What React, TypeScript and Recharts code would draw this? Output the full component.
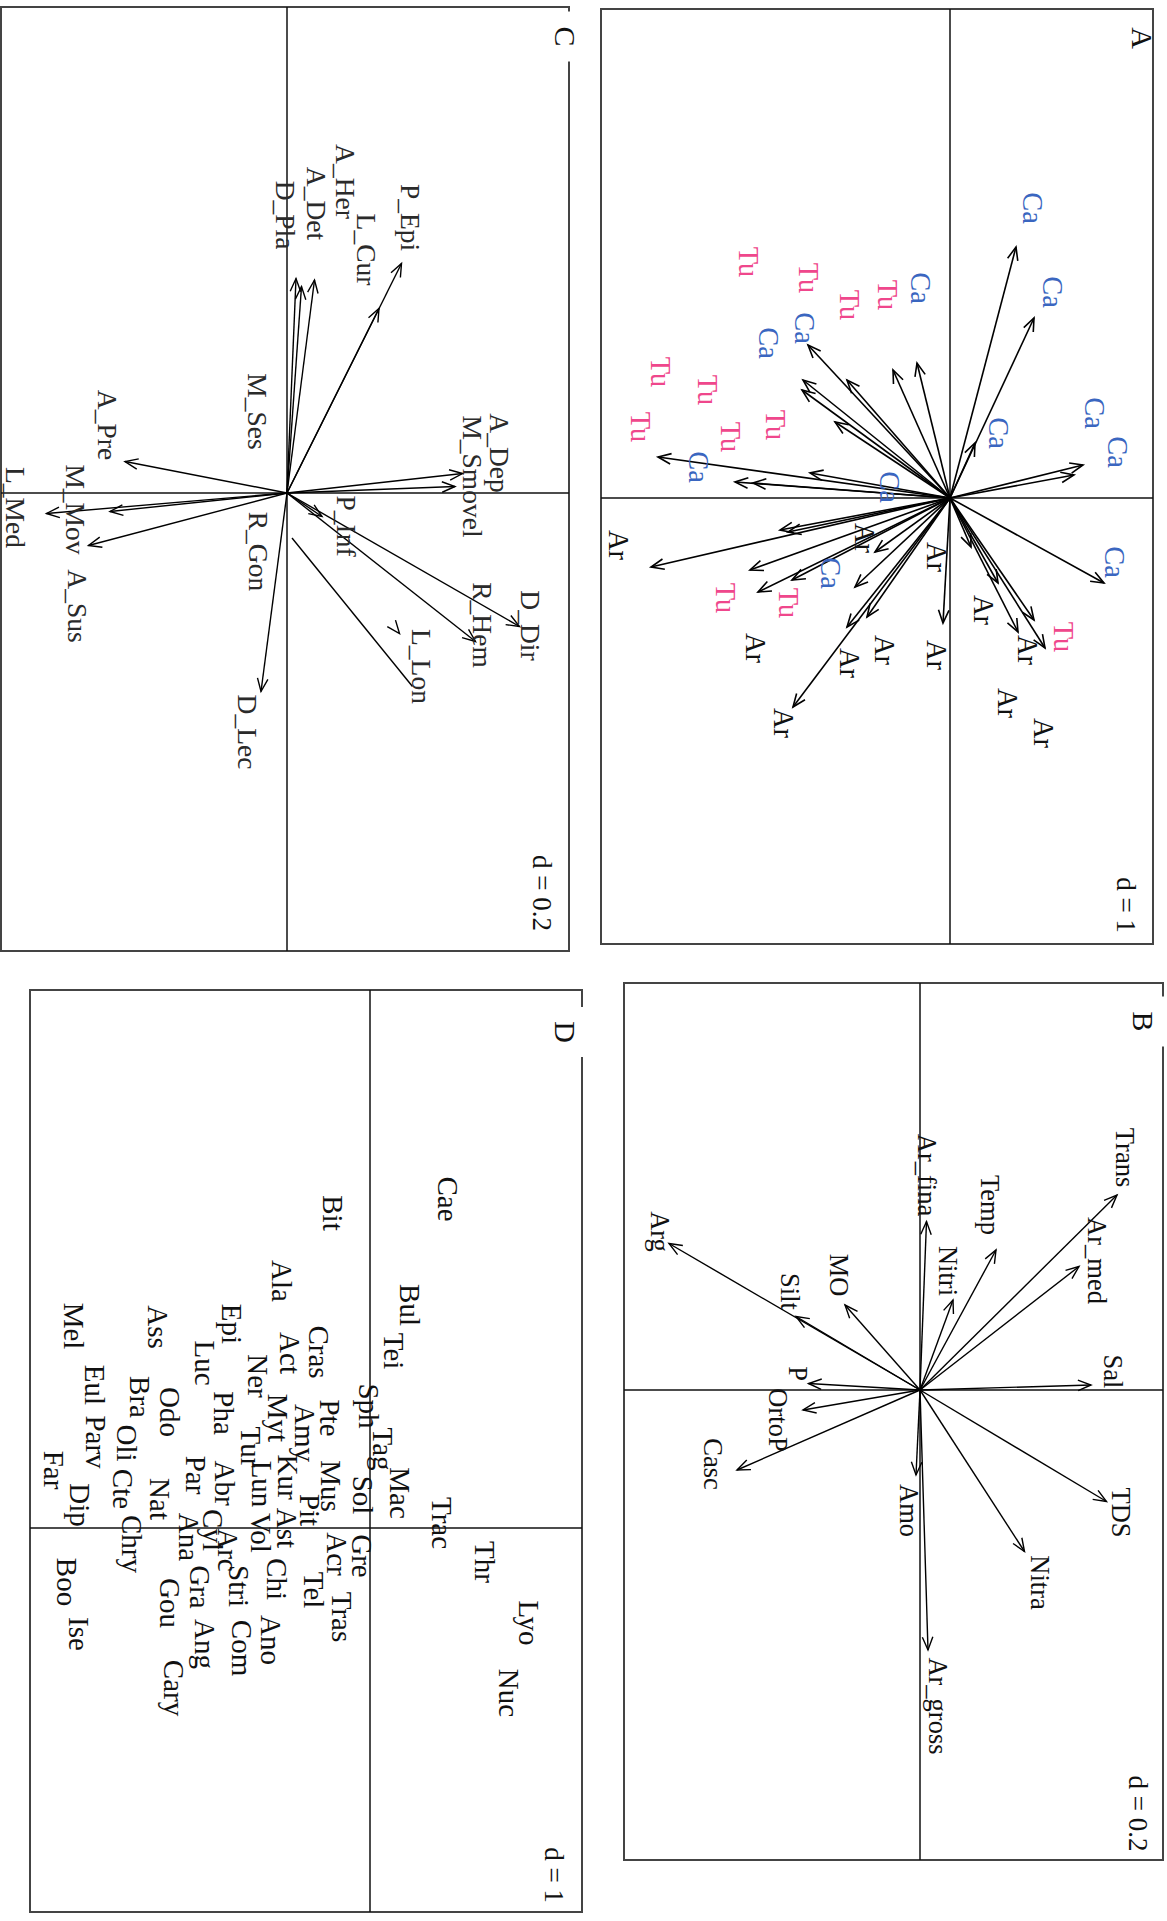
import React from 'react';
import { ScatterChart, Scatter, XAxis, YAxis, ReferenceLine, ReferenceArea } from 'recharts';

const FONT = "'Liberation Serif', 'Times New Roman', 'DejaVu Serif', serif";

// ---------------- Panel A (d = 1) ----------------
const aArrows = [
  { x: -2.51, y: 0.66 }, { x: -1.80, y: 0.84 }, { x: -0.33, y: 1.33 }, { x: -0.23, y: 1.24 },
  { x: -0.55, y: 0.25 }, { x: -1.35, y: -0.33 }, { x: -1.28, y: -0.57 }, { x: -1.53, y: -1.42 },
  { x: -1.18, y: -1.03 }, { x: -1.18, y: -1.47 }, { x: -1.08, y: -1.48 }, { x: -0.76, y: -1.15 },
  { x: -0.25, y: -1.40 }, { x: -0.16, y: -2.15 }, { x: -0.15, y: -1.97 }, { x: -0.41, y: -2.92 },
  { x: 0.69, y: -2.99 }, { x: 0.32, y: -1.70 }, { x: 0.34, y: -1.62 }, { x: 0.72, y: -2.00 },
  { x: 0.94, y: -1.92 }, { x: 0.82, y: -1.58 }, { x: 0.54, y: -0.75 }, { x: 0.89, y: -0.95 },
  { x: 1.19, y: -0.83 }, { x: 1.29, y: -1.03 }, { x: 2.09, y: -1.57 }, { x: 1.25, y: -0.07 },
  { x: 0.85, y: 0.48 }, { x: 1.34, y: 0.68 }, { x: 1.22, y: 0.84 }, { x: 1.50, y: 0.95 },
  { x: 0.85, y: 1.54 }, { x: 0.49, y: 0.21 },
];
const aLabels = [
  { x: -2.90, y: 0.82, t: 'Ca' }, { x: -2.06, y: 1.02, t: 'Ca' }, { x: -0.85, y: 1.44, t: 'Ca' },
  { x: -0.46, y: 1.67, t: 'Ca' }, { x: -0.65, y: 0.48, t: 'Ca' }, { x: -2.10, y: -0.30, t: 'Ca' },
  { x: -1.70, y: -1.46, t: 'Ca' }, { x: -1.55, y: -1.82, t: 'Ca' }, { x: -0.31, y: -2.52, t: 'Ca' },
  { x: -0.11, y: -0.61, t: 'Ca' }, { x: 0.75, y: -1.20, t: 'Ca' }, { x: 0.64, y: 1.64, t: 'Ca' },
  { x: -2.03, y: -0.63, t: 'Tu' }, { x: -1.93, y: -1.01, t: 'Tu' }, { x: -2.20, y: -1.42, t: 'Tu' },
  { x: -2.36, y: -2.02, t: 'Tu' }, { x: -0.73, y: -1.75, t: 'Tu' }, { x: -0.71, y: -3.10, t: 'Tu' },
  { x: -0.61, y: -2.20, t: 'Tu' }, { x: -1.08, y: -2.43, t: 'Tu' }, { x: -1.26, y: -2.90, t: 'Tu' },
  { x: 1.00, y: -2.25, t: 'Tu' }, { x: 1.05, y: -1.62, t: 'Tu' }, { x: 1.39, y: 1.13, t: 'Tu' },
  { x: 0.47, y: -3.32, t: 'Ar' }, { x: 0.40, y: -0.86, t: 'Ar' }, { x: 0.59, y: -0.14, t: 'Ar' },
  { x: 2.25, y: -1.67, t: 'Ar' }, { x: 1.57, y: -0.14, t: 'Ar' }, { x: 1.52, y: -0.66, t: 'Ar' },
  { x: 1.65, y: -1.01, t: 'Ar' }, { x: 1.50, y: -1.95, t: 'Ar' }, { x: 1.12, y: 0.33, t: 'Ar' },
  { x: 1.52, y: 0.77, t: 'Ar' }, { x: 2.05, y: 0.57, t: 'Ar' }, { x: 2.35, y: 0.93, t: 'Ar' },
];
const aTitle = [{ x: -4.60, y: 1.92, t: 'A' }];
const aGrid = [{ x: 4.07, y: 1.76, t: 'd = 1' }];

// ---------------- Panel B (d = 0.2) ----------------
const bArrows = [
  { x: -0.39, y: 0.394 }, { x: -0.247, y: 0.318 }, { x: -0.28, y: 0.152 }, { x: -0.18, y: 0.066 },
  { x: -0.337, y: 0.013 }, { x: -0.17, y: -0.15 }, { x: -0.147, y: -0.248 }, { x: -0.293, y: -0.502 },
  { x: -0.01, y: 0.342 }, { x: -0.013, y: -0.223 }, { x: 0.04, y: -0.234 }, { x: 0.16, y: -0.366 },
  { x: 0.17, y: -0.008 }, { x: 0.52, y: 0.016 }, { x: 0.323, y: 0.209 }, { x: 0.223, y: 0.373 },
];
const bLabels = [
  { x: -0.465, y: 0.41, t: 'Trans' }, { x: -0.259, y: 0.353, t: 'Ar_med' }, { x: -0.37, y: 0.14, t: 'Temp' },
  { x: -0.238, y: 0.055, t: 'Nitri' }, { x: -0.43, y: 0.013, t: 'Ar_fina' }, { x: -0.23, y: -0.162, t: 'MO' },
  { x: -0.197, y: -0.26, t: 'Silt' }, { x: -0.317, y: -0.521, t: 'Arg' }, { x: -0.037, y: 0.385, t: 'Sal' },
  { x: -0.033, y: -0.244, t: 'P' }, { x: 0.06, y: -0.285, t: 'OrtoP' }, { x: 0.148, y: -0.415, t: 'Casc' },
  { x: 0.241, y: -0.022, t: 'Amo' }, { x: 0.385, y: 0.239, t: 'Nitra' }, { x: 0.245, y: 0.401, t: 'TDS' },
  { x: 0.632, y: 0.036, t: 'Ar_gross' },
];
const bTitle = [{ x: -0.737, y: 0.447, t: 'B' }];
const bGrid = [{ x: 0.847, y: 0.435, t: 'd = 0.2' }];

// ---------------- Panel C (d = 0.2) ----------------
const cArrows = [
  { x: -0.459, y: 0.229 }, { x: -0.369, y: 0.184 }, { x: -0.429, y: 0.018 }, { x: -0.413, y: 0.029 },
  { x: -0.426, y: 0.055 }, { x: -0.063, y: -0.324 }, { x: -0.039, y: 0.351 }, { x: -0.013, y: 0.336 },
  { x: 0.041, y: -0.481 }, { x: 0.037, y: -0.354 }, { x: 0.105, y: -0.397 }, { x: 0.397, y: -0.052 },
  { x: 0.047, y: 0.070 }, { x: 0.297, y: 0.377 }, { x: 0.267, y: 0.465 },
];
const cLooseHeads = [{ x: 0.281, y: 0.225 }];
const cLooseSegments = [{ x1: 0.09, y1: 0.01, x2: 0.387, y2: 0.251 }];
const cLabels = [
  { x: -0.551, y: 0.246, t: 'P_Epi' }, { x: -0.487, y: 0.158, t: 'L_Cur' }, { x: -0.623, y: 0.116, t: 'A_Her' },
  { x: -0.579, y: 0.059, t: 'A_Det' }, { x: -0.556, y: -0.004, t: 'D_Pla' }, { x: -0.163, y: -0.059, t: 'M_Ses' },
  { x: -0.136, y: -0.359, t: 'A_Pre' }, { x: -0.08, y: 0.424, t: 'A_Dep' }, { x: -0.033, y: 0.37, t: 'M_Smovel' },
  { x: 0.066, y: 0.118, t: 'P_Inf' }, { x: 0.117, y: -0.057, t: 'R_Gon' }, { x: 0.265, y: 0.487, t: 'D_Dir' },
  { x: 0.264, y: 0.391, t: 'R_Hem' }, { x: 0.347, y: 0.268, t: 'L_Lon' }, { x: 0.478, y: -0.08, t: 'D_Lec' },
  { x: 0.033, y: -0.424, t: 'M_Mov' }, { x: 0.226, y: -0.42, t: 'A_Sus' }, { x: 0.029, y: -0.544, t: 'L_Med' },
];
const cTitle = [{ x: -0.913, y: 0.556, t: 'C' }];
const cGrid = [{ x: 0.80, y: 0.51, t: 'd = 0.2' }];

// ---------------- Panel D (d = 1) ----------------
const dLabels = [
  { x: -3.29, y: 0.78, t: 'Cae' }, { x: -3.15, y: -0.37, t: 'Bit' }, { x: -2.23, y: 0.40, t: 'Bul' },
  { x: -1.77, y: 0.24, t: 'Tei' }, { x: -2.47, y: -0.88, t: 'Ala' }, { x: -1.76, y: -0.51, t: 'Cras' },
  { x: -1.75, y: -0.80, t: 'Act' }, { x: -2.04, y: -1.38, t: 'Epi' }, { x: -2.01, y: -2.12, t: 'Ass' },
  { x: -2.02, y: -2.96, t: 'Mel' }, { x: -1.65, y: -1.65, t: 'Luc' }, { x: -1.52, y: -1.12, t: 'Ner' },
  { x: -1.22, y: -0.01, t: 'Sph' }, { x: -1.10, y: -0.40, t: 'Pte' }, { x: -1.10, y: -0.92, t: 'Myt' },
  { x: -1.15, y: -1.46, t: 'Pha' }, { x: -1.16, y: -2.00, t: 'Odo' }, { x: -1.31, y: -2.30, t: 'Bra' },
  { x: -1.43, y: -2.75, t: 'Eul' }, { x: -0.95, y: -0.65, t: 'Amy' }, { x: -0.81, y: -1.19, t: 'Tur' },
  { x: -0.79, y: 0.13, t: 'Tag' }, { x: -0.35, y: 0.30, t: 'Mac' }, { x: -0.33, y: -0.07, t: 'Sol' },
  { x: -0.42, y: -0.39, t: 'Mus' }, { x: -0.51, y: -0.82, t: 'Kur' }, { x: -0.44, y: -1.08, t: 'Lun' },
  { x: -0.45, y: -1.45, t: 'Abr' }, { x: -0.53, y: -1.74, t: 'Par' }, { x: -0.18, y: -0.60, t: 'Pit' },
  { x: 0.00, y: -0.83, t: 'Ast' }, { x: 0.05, y: -1.09, t: 'Vol' }, { x: -0.58, y: -3.16, t: 'Far' },
  { x: -0.86, y: -2.74, t: 'Parv' }, { x: -0.85, y: -2.43, t: 'Oli' }, { x: -0.39, y: -2.47, t: 'Cte' },
  { x: -0.23, y: -2.90, t: 'Dip' }, { x: -0.29, y: -2.10, t: 'Nat' }, { x: 0.16, y: -2.38, t: 'Chry' },
  { x: 0.54, y: -3.03, t: 'Boo' }, { x: 1.06, y: -2.91, t: 'Ise' }, { x: 0.09, y: -1.81, t: 'Ana' },
  { x: 0.02, y: -1.57, t: 'Cyl' }, { x: 0.22, y: -1.42, t: 'Arc' }, { x: 0.58, y: -1.31, t: 'Stri' },
  { x: 0.59, y: -1.70, t: 'Gra' }, { x: 0.75, y: -2.00, t: 'Gou' }, { x: 1.16, y: -1.65, t: 'Ang' },
  { x: 1.60, y: -1.96, t: 'Cary' }, { x: 1.20, y: -1.28, t: 'Com' }, { x: 0.51, y: -0.93, t: 'Chi' },
  { x: 1.12, y: -0.99, t: 'Ano' }, { x: 0.62, y: -0.56, t: 'Tel' }, { x: 0.26, y: -0.33, t: 'Acr' },
  { x: 0.89, y: -0.28, t: 'Tras' }, { x: 0.28, y: -0.08, t: 'Gre' }, { x: -0.05, y: 0.72, t: 'Trac' },
  { x: 0.34, y: 1.15, t: 'Thr' }, { x: 0.95, y: 1.59, t: 'Lyo' }, { x: 1.65, y: 1.39, t: 'Nuc' },
];
const dTitle = [{ x: -4.96, y: 1.95, t: 'D' }];
const dGrid = [{ x: 3.47, y: 1.84, t: 'd = 1' }];

// ---------------- styling / layout ----------------
const groupColor: Record<string, string> = { Ca: '#3a66c0', Tu: '#ef478c', Ar: '#111111' };
const black = () => '#111111';
const grey = () => '#2a2a2a';

type Cfg = { left: number; top: number; ppu: number; xd: [number, number]; yd: [number, number] };
const cfgA: Cfg = { left: 9, top: 14, ppu: 100, xd: [-4.89, 4.46], yd: [-3.49, 2.03] };
const cfgB: Cfg = { left: 983, top: 4, ppu: 500, xd: [-0.814, 0.94], yd: [-0.592, 0.486] };
const cfgC: Cfg = { left: 7, top: 598, ppu: 500, xd: [-0.972, 0.916], yd: [-0.572, 0.564] };
const cfgD: Cfg = { left: 990, top: 585, ppu: 100, xd: [-5.38, 3.84], yd: [-3.4, 2.12] };

function headShape(lw: number) {
  return (props: any) => {
    const { cx, cy, payload } = props;
    if (cx == null || cy == null || !payload) return <g />;
    const ang = Math.atan2(-payload.y, payload.x);
    const L = 14;
    const a = (22 * Math.PI) / 180;
    const x1 = cx - L * Math.cos(ang - a);
    const y1 = cy - L * Math.sin(ang - a);
    const x2 = cx - L * Math.cos(ang + a);
    const y2 = cy - L * Math.sin(ang + a);
    return (
      <path d={`M${x1},${y1}L${cx},${cy}L${x2},${y2}`} fill="none" stroke="#000" strokeWidth={lw} />
    );
  };
}

function textShape(size: number, colorOf: (t: string) => string, bg?: { w: number; h: number }) {
  return (props: any) => {
    const { cx, cy, payload } = props;
    if (cx == null || cy == null || !payload) return <g />;
    return (
      <g>
        {bg ? <rect x={cx - bg.w / 2} y={cy - bg.h / 2} width={bg.w} height={bg.h} fill="#fff" /> : null}
        <text x={cx} y={cy} textAnchor="middle" dominantBaseline="central" fontFamily={FONT}
          fontSize={size} fill={colorOf(payload.t)}>{payload.t}</text>
      </g>
    );
  };
}

type PanelProps = {
  cfg: Cfg;
  arrows: { x: number; y: number }[];
  looseHeads?: { x: number; y: number }[];
  looseSegments?: { x1: number; y1: number; x2: number; y2: number }[];
  labels: { x: number; y: number; t: string }[];
  title: { x: number; y: number; t: string }[];
  grid: { x: number; y: number; t: string }[];
  labelSize: number;
  labelColor: (t: string) => string;
  lw: number;
  titleBg: boolean;
};

function Panel(p: PanelProps) {
  const M = 26;
  const { cfg } = p;
  const pad = M / cfg.ppu;
  const xdom: [number, number] = [cfg.xd[0] - pad, cfg.xd[1] + pad];
  const ydom: [number, number] = [cfg.yd[0] - pad, cfg.yd[1] + pad];
  const w = Math.round((xdom[1] - xdom[0]) * cfg.ppu);
  const h = Math.round((ydom[1] - ydom[0]) * cfg.ppu);
  return (
    <div style={{ position: 'absolute', left: cfg.left - M, top: cfg.top - M }}>
      <ScatterChart width={w} height={h} margin={{ top: 0, right: 0, bottom: 0, left: 0 }}>
        <XAxis type="number" dataKey="x" domain={xdom} hide allowDataOverflow />
        <YAxis type="number" dataKey="y" domain={ydom} hide allowDataOverflow />
        <ReferenceLine segment={[{ x: 0, y: cfg.yd[0] }, { x: 0, y: cfg.yd[1] }]} stroke="#111" strokeWidth={1.5} />
        <ReferenceLine segment={[{ x: cfg.xd[0], y: 0 }, { x: cfg.xd[1], y: 0 }]} stroke="#111" strokeWidth={1.5} />
        {p.arrows.map((a, i) => (
          <ReferenceLine key={'s' + i} segment={[{ x: 0, y: 0 }, { x: a.x, y: a.y }]}
            stroke="#000" strokeWidth={p.lw} ifOverflow="visible" />
        ))}
        {(p.looseSegments || []).map((s, i) => (
          <ReferenceLine key={'l' + i} segment={[{ x: s.x1, y: s.y1 }, { x: s.x2, y: s.y2 }]}
            stroke="#000" strokeWidth={p.lw} ifOverflow="visible" />
        ))}
        <ReferenceArea x1={cfg.xd[0]} x2={cfg.xd[1]} y1={cfg.yd[0]} y2={cfg.yd[1]}
          fill="none" fillOpacity={0} stroke="#444" strokeWidth={2} ifOverflow="visible" />
        <Scatter data={[...p.arrows, ...(p.looseHeads || [])]} shape={headShape(p.lw)} isAnimationActive={false} />
        <Scatter data={p.labels} shape={textShape(p.labelSize, p.labelColor)} isAnimationActive={false} />
        <Scatter data={p.title} shape={textShape(30, black, p.titleBg ? { w: 50, h: 46 } : undefined)} isAnimationActive={false} />
        <Scatter data={p.grid} shape={textShape(27, black)} isAnimationActive={false} />
      </ScatterChart>
    </div>
  );
}

export default function App() {
  return (
    <div style={{ position: 'absolute', left: 0, top: 0, width: 1167, height: 1921, overflow: 'hidden', background: '#fff' }}>
      <div style={{ position: 'absolute', left: 0, top: 0, width: 1921, height: 1167, transformOrigin: '0 0',
        transform: 'translate(1167px, 0px) rotate(90deg)' }}>
        <Panel cfg={cfgA} arrows={aArrows} labels={aLabels} title={aTitle} grid={aGrid}
          labelSize={28.5} labelColor={(t) => groupColor[t] || '#111'} lw={1.6} titleBg={false} />
        <Panel cfg={cfgB} arrows={bArrows} labels={bLabels} title={bTitle} grid={bGrid}
          labelSize={26.5} labelColor={black} lw={1.4} titleBg={true} />
        <Panel cfg={cfgC} arrows={cArrows} looseHeads={cLooseHeads} looseSegments={cLooseSegments}
          labels={cLabels} title={cTitle} grid={cGrid} labelSize={27.5} labelColor={grey} lw={1.4} titleBg={true} />
        <Panel cfg={cfgD} arrows={[]} labels={dLabels} title={dTitle} grid={dGrid}
          labelSize={29} labelColor={black} lw={1.4} titleBg={true} />
      </div>
    </div>
  );
}
